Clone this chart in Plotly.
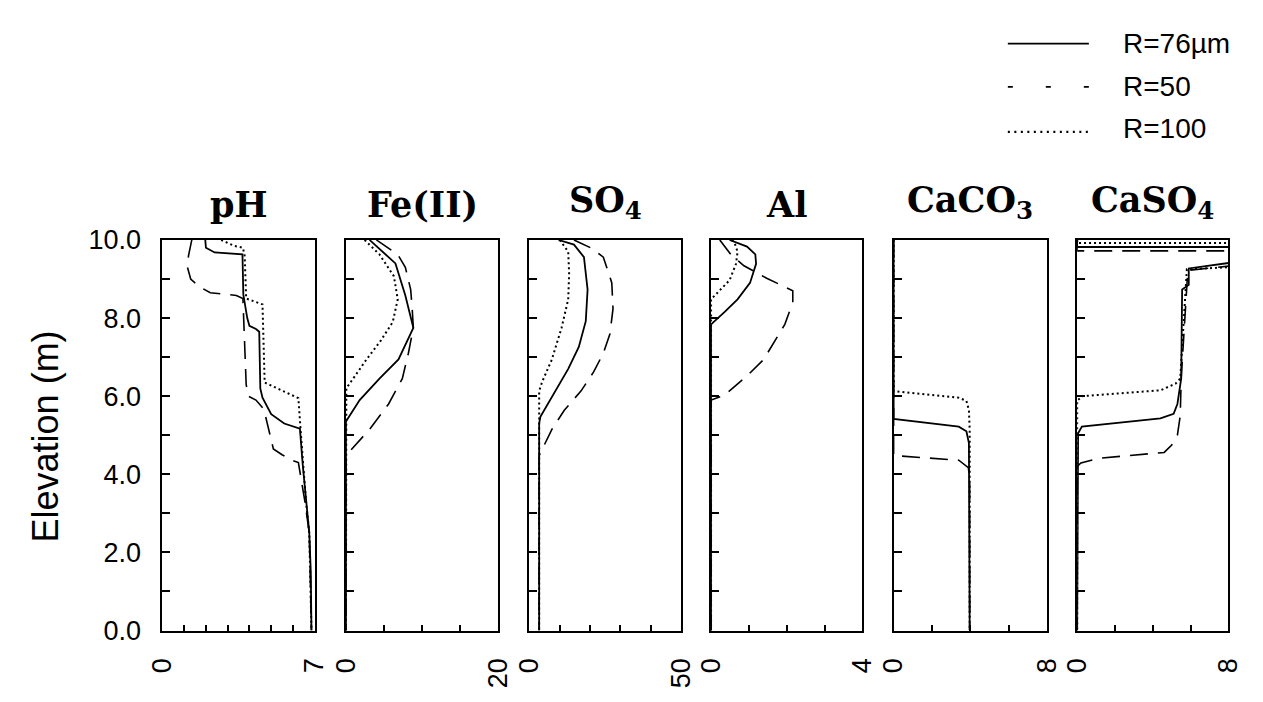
import plotly.graph_objects as go

W, H = 1263, 702

# ---------------- data (elevation in m, value on panel's x scale) ----------------
# pH
ph_solid_elev = [10.0, 9.8, 9.68, 9.63, 8.6, 8.0, 7.8, 7.72, 7.65, 6.2, 5.96, 5.54, 5.3, 5.17, 4.24, 3.33, 2.5, 1.5, 0.0]
ph_solid_val = [1.97, 2.0, 2.4, 3.68, 3.72, 3.9, 4.0, 4.3, 4.45, 4.5, 4.6, 5.0, 5.6, 6.32, 6.45, 6.6, 6.75, 6.82, 6.85]
ph_dash_elev = [10.0, 9.6, 9.3, 9.0, 8.8, 8.65, 8.58, 8.5, 6.3, 6.0, 5.9, 5.67, 4.65, 4.5, 4.35, 4.3, 3.3, 2.5, 0.0]
ph_dash_val = [1.35, 1.2, 1.15, 1.3, 1.7, 2.2, 3.4, 3.7, 3.85, 3.95, 4.3, 4.66, 5.1, 5.5, 6.0, 6.25, 6.55, 6.75, 6.85]
ph_dot_elev = [10.0, 9.85, 9.8, 9.6, 8.5, 8.4, 8.35, 6.35, 6.27, 6.0, 5.95, 5.15, 4.3, 3.3, 2.5, 0.0]
ph_dot_val = [2.7, 3.3, 3.7, 3.78, 3.85, 4.3, 4.6, 4.7, 5.0, 6.0, 6.25, 6.35, 6.45, 6.6, 6.75, 6.85]

# Fe(II)
fe_solid_elev = [10.0, 9.4, 8.58, 7.75, 6.94, 6.45, 5.9, 5.35, 0.0]
fe_solid_val = [3.1, 6.5, 7.8, 8.85, 6.9, 4.4, 1.8, 0.0, 0.0]
fe_dash_elev = [10.0, 9.63, 9.3, 8.73, 8.24, 7.75, 7.1, 6.45, 5.8, 5.15, 4.48, 0.0]
fe_dash_val = [4.0, 6.8, 7.8, 8.5, 8.7, 8.85, 8.2, 7.4, 5.6, 3.1, 0.0, 0.0]
fe_dot_elev = [10.0, 9.63, 9.07, 8.48, 7.9, 7.43, 6.94, 6.2, 0.0]
fe_dot_val = [2.45, 4.4, 6.3, 6.8, 6.15, 4.6, 2.7, 0.05, 0.0]

# SO4
so4_solid_elev = [10.0, 9.88, 9.56, 8.73, 7.92, 7.26, 6.7, 5.96, 5.47, 5.3, 0.0]
so4_solid_val = [9.6, 14.7, 18.0, 19.2, 18.6, 16.3, 12.8, 7.4, 3.6, 3.2, 3.2]
so4_dash_elev = [10.0, 9.8, 9.56, 8.9, 8.24, 7.6, 7.1, 6.62, 6.13, 5.64, 5.15, 4.56, 4.48, 0.0]
so4_dash_val = [14.7, 20.2, 24.4, 27.2, 27.6, 26.6, 24.4, 21.2, 17.0, 11.5, 7.4, 3.5, 3.2, 3.2]
so4_dot_elev = [10.0, 9.7, 9.14, 8.48, 7.75, 6.94, 6.37, 6.13, 5.47, 0.0]
so4_dot_val = [10.0, 12.8, 13.1, 12.8, 10.6, 7.4, 4.2, 3.2, 3.2, 3.2]

# Al
al_solid_elev = [10.0, 9.83, 9.63, 9.39, 8.9, 8.48, 8.16, 7.84, 0.0]
al_solid_val = [0.49, 0.95, 1.17, 1.19, 1.03, 0.7, 0.36, 0.0, 0.0]
al_dash_elev = [10.0, 9.63, 9.34, 9.02, 8.7, 8.4, 7.84, 7.5, 6.94, 6.52, 6.03, 5.9, 0.0]
al_dash_val = [0.23, 0.52, 0.87, 1.47, 2.16, 2.16, 1.95, 1.73, 1.39, 0.95, 0.36, 0.0, 0.0]
al_dot_elev = [10.0, 9.93, 9.7, 9.39, 8.97, 8.65, 8.48, 0.0]
al_dot_val = [0.55, 0.62, 0.7, 0.66, 0.49, 0.18, 0.0, 0.0]

# CaCO3
caco3_solid_elev = [10.0, 5.42, 5.22, 5.1, 4.8, 0.0]
caco3_solid_val = [0.0, 0.0, 3.4, 3.8, 3.93, 3.97]
caco3_dash_elev = [10.0, 4.48, 4.36, 4.17, 3.9, 0.0]
caco3_dash_val = [0.0, 0.0, 3.4, 3.9, 3.97, 3.97]
caco3_dot_elev = [10.0, 6.13, 5.96, 5.88, 5.64, 5.15, 0.0]
caco3_dot_val = [0.0, 0.0, 3.4, 3.8, 3.93, 3.97, 3.97]

# CaSO4
caso4_solid_elev = [10.0, 9.82, 9.82, 9.45, 9.41, 9.27, 8.85, 8.73, 6.45, 5.8, 5.55, 5.43, 5.22, 5.05, 0.0]
caso4_solid_val = [0.0, 0.0, 9.5, 9.5, 8.0, 5.9, 5.9, 5.55, 5.5, 5.3, 5.1, 4.4, 0.25, 0.05, 0.0]
caso4_dash_elev = [10.0, 9.72, 9.72, 9.4, 9.33, 9.22, 6.45, 5.5, 5.0, 4.75, 4.56, 4.41, 4.29, 4.2, 0.0]
caso4_dash_val = [0.0, 0.0, 9.5, 9.5, 8.0, 5.85, 5.5, 5.45, 5.3, 5.0, 4.6, 1.15, 0.2, 0.0, 0.0]
caso4_dot_elev = [10.0, 9.92, 9.92, 9.35, 9.3, 9.25, 6.45, 6.32, 6.15, 6.0, 5.88, 0.0]
caso4_dot_val = [0.0, 0.0, 9.5, 9.5, 8.0, 5.8, 5.45, 5.2, 4.4, 0.26, 0.0, 0.0]

panel_titles = ["pH", "Fe(II)", "SO<sub>4</sub>", "Al", "CaCO<sub>3</sub>", "CaSO<sub>4</sub>"]
panel_xmax = [7, 20, 50, 4, 8, 8]
panel_xstep = [1, 5, 10, 1, 2, 2]
series_names = ["R=76\u00b5m", "R=50", "R=100"]
ytick_vals = [0, 2, 4, 6, 8, 10]
ytick_text = ["0.0", "2.0", "4.0", "6.0", "8.0", "10.0"]
yminor_vals = [1, 3, 5, 7, 9]

panel_data = [
    [(ph_solid_val, ph_solid_elev), (ph_dash_val, ph_dash_elev), (ph_dot_val, ph_dot_elev)],
    [(fe_solid_val, fe_solid_elev), (fe_dash_val, fe_dash_elev), (fe_dot_val, fe_dot_elev)],
    [(so4_solid_val, so4_solid_elev), (so4_dash_val, so4_dash_elev), (so4_dot_val, so4_dot_elev)],
    [(al_solid_val, al_solid_elev), (al_dash_val, al_dash_elev), (al_dot_val, al_dot_elev)],
    [(caco3_solid_val, caco3_solid_elev), (caco3_dash_val, caco3_dash_elev), (caco3_dot_val, caco3_dot_elev)],
    [(caso4_solid_val, caso4_solid_elev), (caso4_dash_val, caso4_dash_elev), (caso4_dot_val, caso4_dot_elev)],
]

# ---------------- layout geometry (pixels) ----------------
panel_px = [(151, 307), (339, 495), (527, 682), (713, 868), (900, 1057), (1088, 1243)]
top_px, bot_px = 235, 643
line_styles = [
    dict(color="black", width=1.8, dash="solid"),
    dict(color="black", width=1.6, dash="18px,10px"),
    dict(color="black", width=2.0, dash="2px,3px"),
]


def px_x(x):
    return x / W


def px_y(y):
    return 1 - y / H


fig = go.Figure()
layout = dict(
    width=W, height=H,
    margin=dict(l=0, r=0, t=0, b=0),
    paper_bgcolor="white", plot_bgcolor="white",
    showlegend=False,
    font=dict(family="Liberation Sans", color="black"),
)

annotations = []
shapes = []
for i, (x0, x1) in enumerate(panel_px):
    n = "" if i == 0 else str(i + 1)
    xmax = panel_xmax[i]
    minor_x = list(range(panel_xstep[i], xmax, panel_xstep[i]))
    layout["xaxis" + n] = dict(
        domain=[px_x(x0), px_x(x1)], range=[0, xmax], anchor="y" + n,
        showline=True, linecolor="black", linewidth=2, mirror=True,
        showgrid=False, zeroline=False,
        ticks="inside", ticklen=6, tickwidth=1.5, tickcolor="black",
        tickvals=[0, xmax], ticktext=["0", str(xmax)], tickangle=-90,
        minor=dict(tickvals=minor_x, ticks="inside", ticklen=6, tickwidth=1.5,
                   tickcolor="black", showgrid=False),
        tickfont=dict(family="Liberation Sans", size=27, color="black"),
        ticklabelstandoff=15,
    )
    layout["yaxis" + n] = dict(
        domain=[px_y(bot_px), px_y(top_px)], range=[0, 10], anchor="x" + n,
        showline=True, linecolor="black", linewidth=2, mirror=True,
        showgrid=False, zeroline=False,
        ticks="inside", ticklen=8, tickwidth=1.5, tickcolor="black",
        tickvals=ytick_vals, ticktext=ytick_text, showticklabels=(i == 0),
        minor=dict(tickvals=yminor_vals, ticks="inside", ticklen=8, tickwidth=1.5,
                   tickcolor="black", showgrid=False),
        tickfont=dict(family="Liberation Sans", size=27, color="black"),
        ticklabelstandoff=14,
    )
    for s, (vals, elev) in enumerate(panel_data[i]):
        fig.add_trace(go.Scatter(
            x=vals, y=elev, mode="lines", name=series_names[s],
            line=line_styles[s], xaxis="x" + n, yaxis="y" + n,
            showlegend=False, hoverinfo="skip",
        ))
    annotations.append(dict(
        text="<b>" + panel_titles[i] + "</b>", xref="paper", yref="paper",
        x=px_x((x0 + x1) / 2), y=px_y(221), xanchor="center", yanchor="bottom",
        showarrow=False, font=dict(family="DejaVu Serif", size=35, color="black"),
    ))

# y-axis title
annotations.append(dict(
    text="Elevation (m)", xref="paper", yref="paper",
    x=px_x(31), y=px_y(440), xanchor="center", yanchor="middle", textangle=-90,
    showarrow=False, font=dict(family="Liberation Sans", size=36, color="black"),
))

# legend (drawn manually)
legend_rows = [30, 75, 122]
legend_text_rows = [30, 75, 119]
legend_dash = ["solid", "5px,33px", "2px,4.5px"]
legend_width = [1.8, 1.8, 2.2]
for k in range(3):
    shapes.append(dict(
        type="line", xref="paper", yref="paper",
        x0=px_x(1017), x1=px_x(1100), y0=px_y(legend_rows[k]), y1=px_y(legend_rows[k]),
        line=dict(color="black", width=legend_width[k], dash=legend_dash[k]),
    ))
    annotations.append(dict(
        text=series_names[k], xref="paper", yref="paper",
        x=px_x(1133), y=px_y(legend_text_rows[k]), xanchor="left", yanchor="middle",
        showarrow=False, font=dict(family="Liberation Sans", size=28, color="black"),
    ))

layout["annotations"] = annotations
layout["shapes"] = shapes
fig.update_layout(**layout)
fig.write_html("out.html")
